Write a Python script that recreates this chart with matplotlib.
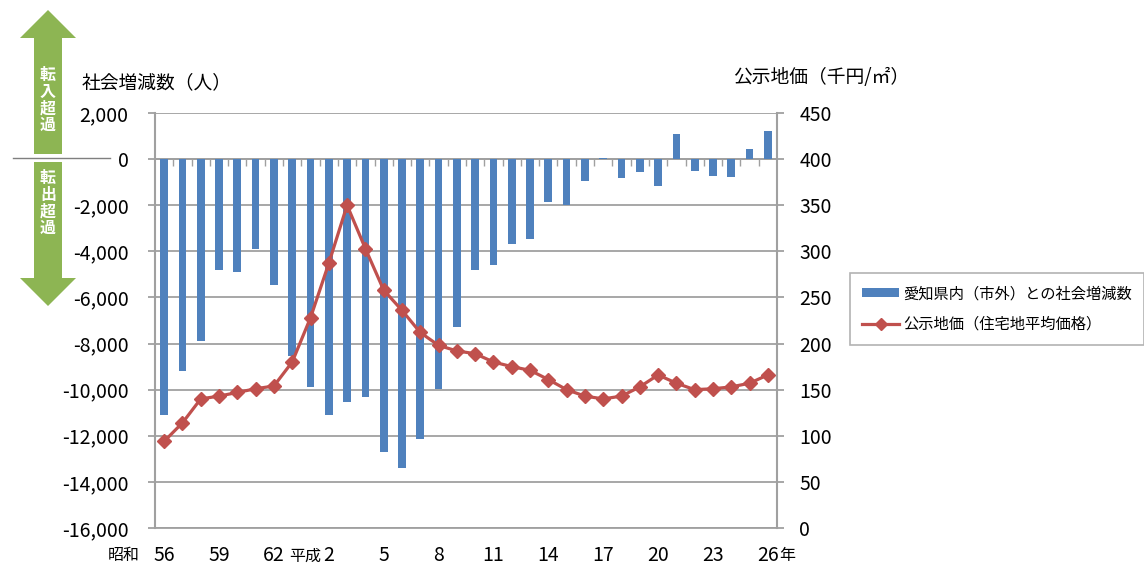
import numpy as np
import matplotlib.pyplot as plt
from matplotlib.patches import Polygon, Patch
from matplotlib.lines import Line2D
from matplotlib.ticker import FuncFormatter
from matplotlib.transforms import blended_transform_factory

plt.rcParams['font.family'] = ['Noto Sans CJK JP', 'DejaVu Sans']

# 昭和56年(1981) ～ 平成26年(2014)
years = list(range(1981, 2015))
# 愛知県内(市外)との社会増減数(人)
social = [-11100, -9200, -7900, -4800, -4900, -3900, -5450, -8550,
          -9900, -11100, -10550, -10300, -12700, -13400, -12150, -9950,
          -7300, -4800, -4580, -3690, -3460, -1840, -2000, -930,
          50, -830, -580, -1150, 1090, -510, -730, -770, 440, 1210]
# 公示地価 住宅地平均価格(千円/㎡)
price = [94, 114, 140, 143, 147, 151, 154, 180,
         228, 287, 350, 303, 258, 236, 212, 198,
         192, 189, 180, 175, 171, 161, 150, 143,
         140, 143, 153, 166, 157, 150, 151, 153, 157, 166]

label_idx = [0, 3, 6, 9, 12, 15, 18, 21, 24, 27, 30, 33]
label_text = ['56', '59', '62', '2', '5', '8', '11', '14', '17', '20', '23', '26']

blue = '#4f81bd'
red = '#c0504d'
green = '#8db553'
gray = '#a0a0a0'

W, H = 1144, 568
fig = plt.figure(figsize=(W / 100, H / 100), dpi=100)


def fx(px):
    return px / W


def fy(py):
    return 1 - py / H


ax = fig.add_axes([fx(155), fy(528), (777 - 155) / W, (528 - 113) / H])
ax2 = ax.twinx()

x = np.arange(len(years))
ax.bar(x, social, width=0.42, color=blue, zorder=3)
ax.set_xlim(-0.5, len(years) - 0.5)
ax.set_ylim(-16000, 2000)
ax.set_yticks(range(-16000, 2001, 2000))
ax.yaxis.set_major_formatter(FuncFormatter(lambda v, p: f'{int(v):,}'))
ax.grid(axis='y', color=gray, lw=1.3)
ax.set_axisbelow(True)

# category axis crosses at zero, ticks between bars
ax.spines['bottom'].set_position(('data', 0))
ax.spines['bottom'].set_color(gray)
ax.spines['bottom'].set_linewidth(1.3)
ax.spines['top'].set_visible(False)
ax.spines['right'].set_visible(False)
ax.spines['left'].set_color(gray)
ax.spines['left'].set_linewidth(1.5)
ax.set_xticks(np.arange(0.5, len(years) - 1, 1))
ax.tick_params(axis='x', direction='out', length=5, width=1, color=gray,
               labelbottom=False)
ax.tick_params(axis='y', direction='out', length=5, width=1.3, color=gray,
               pad=14, labelsize=14, labelcolor='black')

ax2.plot(x, price, color=red, lw=2.3, marker='D', markersize=7.5, zorder=4)
ax2.set_ylim(0, 450)
ax2.set_yticks(range(0, 451, 50))
for s in ['top', 'left']:
    ax2.spines[s].set_visible(False)
ax2.spines['bottom'].set_color(gray)
ax2.spines['bottom'].set_linewidth(1.3)
ax2.spines['right'].set_color(gray)
ax2.spines['right'].set_linewidth(1.5)
ax2.tick_params(axis='y', direction='out', length=5, width=1.3, color=gray,
                pad=11, labelsize=14)

# year labels under the chart
ly = -0.067
tr = blended_transform_factory(ax.transData, ax.transAxes)
for i, t in zip(label_idx, label_text):
    ax.text(i, ly, t, transform=tr, ha='center', va='center', fontsize=14)
ax.annotate('昭和', (0, ly), xycoords=tr, xytext=(-29, 0),
            textcoords='offset points', ha='center', va='center', fontsize=11.5)
ax.annotate('平成', (9, ly), xycoords=tr, xytext=(-17, 0),
            textcoords='offset points', ha='center', va='center', fontsize=11.5)
ax.annotate('年', (33, ly), xycoords=tr, xytext=(14, 0),
            textcoords='offset points', ha='center', va='center', fontsize=11.5)

# axis titles
fig.text(fx(157), fy(83), '社会増減数（人）', ha='center', va='center', fontsize=13.5)
fig.text(fx(821), fy(78), '公示地価（千円/㎡）', ha='center', va='center', fontsize=13.5)

# green arrows on the left
up = [(48, 10), (76, 38), (62, 38), (62, 154), (34, 154), (34, 38), (20, 38)]
down = [(34, 162), (62, 162), (62, 278), (76, 278), (48, 306), (20, 278), (34, 278)]
for pts in (up, down):
    fig.add_artist(Polygon([(fx(a), fy(b)) for a, b in pts], closed=True,
                           facecolor=green, edgecolor='none',
                           transform=fig.transFigure))
fig.add_artist(Line2D([fx(13), fx(110)], [fy(158), fy(158)], color='#7f7f7f',
                      lw=1, transform=fig.transFigure))
fig.text(fx(48), fy(100), '\n'.join('転入超過'), ha='center', va='center',
         color='white', fontsize=11.5, fontweight='bold', linespacing=1.05)
fig.text(fx(48), fy(203), '\n'.join('転出超過'), ha='center', va='center',
         color='white', fontsize=11.5, fontweight='bold', linespacing=1.05)

# legend
handles = [Patch(facecolor=blue, edgecolor='none'),
           Line2D([], [], color=red, lw=2.3, marker='D', markersize=6)]
labels = ['愛知県内（市外）との社会増減数', '公示地価（住宅地平均価格）']
leg = fig.legend(handles, labels, loc='upper left',
                 bbox_to_anchor=(fx(850), fy(273)), bbox_transform=fig.transFigure,
                 fontsize=11, frameon=True, fancybox=False, handlelength=2.4,
                 handleheight=0.5, labelspacing=0.9, borderpad=0.8,
                 handletextpad=0.3, borderaxespad=0)
leg.get_frame().set_edgecolor(gray)
leg.get_frame().set_linewidth(1.2)

fig.savefig('out.png', dpi=100)
